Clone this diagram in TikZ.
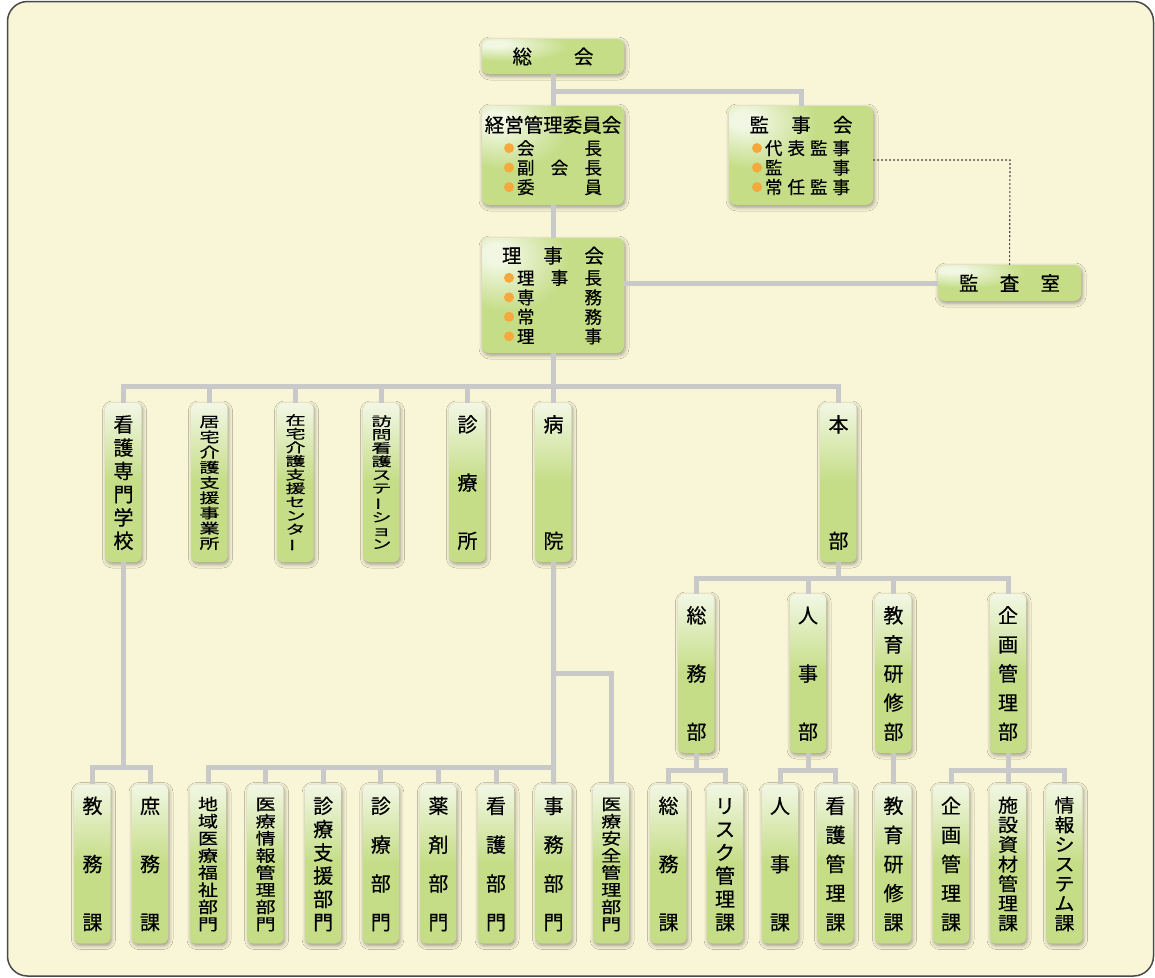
\documentclass[tikz,border=0pt]{standalone}
\usepackage{fontspec}
\setmainfont{Noto Sans CJK JP}[FakeBold=0.5]
\usepackage{graphicx}
\usetikzlibrary{positioning,shadows.blur}

\definecolor{papercream}{HTML}{F9F5D7}
\definecolor{framegray}{HTML}{4A4A4A}
\definecolor{linkgray}{HTML}{C9C9C9}
\definecolor{boxgreen}{HTML}{C4DD86}
\definecolor{boxlight}{HTML}{F2F7E4}
\definecolor{dotorange}{HTML}{F5A83C}

\pgfdeclareverticalshading{vshade}{100bp}{color(0bp)=(boxgreen); color(50bp)=(boxgreen); color(75bp)=(boxlight); color(100bp)=(boxlight)}
\pgfdeclareradialshading{hshade}{\pgfpoint{-21bp}{19bp}}{color(0bp)=(boxlight); color(4bp)=(boxlight); color(22bp)=(boxgreen); color(100bp)=(boxgreen)}

\newcommand\ttl{\fontsize{19.5}{19.5}\selectfont}
\newcommand\itm[1]{\tikz[baseline=-0.38em]\fill[dotorange] (0,0) circle (5pt);\hspace{3pt}\makebox[85pt][s]{#1}}
\newcommand\vbar{\rotatebox[origin=c]{90}{ー}}
% vertical text, spread from top to bottom of the box
\newcommand\vtxt[2][1]{%
  \vbox to 134pt{\offinterlineskip
    \foreach[count=\idx] \ch in {#2}{%
      \ifnum\idx>1 \vfill\fi
      \hbox to 30pt{\hss\scalebox{1}[#1]{\rule[-0.12em]{0pt}{1em}\ch}\hss}}}}

\begin{document}
\begin{tikzpicture}[x=1pt,y=-1pt,node distance=86pt,on grid,
    hbox/.style={shade,shading=hshade,rounded corners=7pt,inner sep=0pt,align=center,
      minimum width=142pt,font=\fontsize{17.5}{19.5}\selectfont,
      blur shadow={shadow xshift=1pt,shadow yshift=-2pt,shadow blur radius=4pt,shadow opacity=40}},
    vbox/.style={shade,shading=vshade,rounded corners=6pt,inner sep=0pt,
      minimum width=36pt,minimum height=159pt,font=\fontsize{20}{20}\selectfont,
      blur shadow={shadow xshift=1pt,shadow yshift=-2pt,shadow blur radius=4pt,shadow opacity=40}},
    link/.style={draw=linkgray,line width=5pt},
    audit/.style={draw=framegray,line width=1.1pt,dash pattern=on 2pt off 2pt}]

  \useasboundingbox (0,0) rectangle (1155,977);
  \fill[white] (0,0) rectangle (1155,977);
  \draw[framegray,fill=papercream,line width=1.5pt,rounded corners=20pt] (7.5,1.5) rectangle (1153.5,976);

  % top levels
  \node[hbox,minimum height=35pt] (soukai) at (553,56.5) {\makebox[81pt][s]{\ttl 総\hfill 会}};
  \node[hbox,minimum height=99pt] (keiei_iin) at (553,155.5)
    {{\ttl 経営管理委員会}\\[3pt]\itm{会\hfill 長}\\\itm{副\hfill 会\hfill 長}\\\itm{委\hfill 員}};
  \node[hbox,minimum height=99pt,minimum width=144pt] (kansa_kai) at (801,155.5)
    {\makebox[103pt][s]{\ttl 監\hfill 事\hfill 会}\\[3pt]\itm{代\hfill 表\hfill 監\hfill 事}\\\itm{監\hfill 事}\\\itm{常\hfill 任\hfill 監\hfill 事}};
  \node[hbox,minimum height=115pt] (rijikai) at (553,295.5)
    {\makebox[102pt][s]{\ttl 理\hfill 事\hfill 会}\\[2pt]\itm{理\hfill 事\hfill 長}\\\itm{専\hfill 務}\\\itm{常\hfill 務}\\\itm{理\hfill 事}};
  \node[hbox,minimum height=36pt,minimum width=143pt] (kansa_shitsu) at (1009.5,283) {\makebox[101pt][s]{\ttl 監\hfill 査\hfill 室}};

  % second row
  \node[vbox] (kango_gakko) at (123.5,482.5) {\vtxt{看,護,専,門,学,校}};
  \node[vbox,right=of kango_gakko] (kyotaku) {\vtxt[0.7]{居,宅,介,護,支,援,事,業,所}};
  \node[vbox,right=of kyotaku] (zaitaku) {\vtxt[0.64]{在,宅,介,護,支,援,セ,ン,タ,\vbar}};
  \node[vbox,right=of zaitaku] (houmon) {\vtxt[0.64]{訪,問,看,護,ス,テ,\vbar,シ,ョ,ン}};
  \node[vbox,right=of houmon] (shinryojo) {\vtxt{診,療,所}};
  \node[vbox,right=of shinryojo] (byoin) {\vtxt{病,院}};
  \node[vbox] (honbu) at (838.5,482.5) {\vtxt{本,部}};

  % departments of honbu
  \node[vbox] (somubu) at (696.5,673.5) {\vtxt{総,務,部}};
  \node[vbox] (jinjibu) at (808,673.5) {\vtxt{人,事,部}};
  \node[vbox] (kyoikubu) at (893.5,673.5) {\vtxt{教,育,研,修,部}};
  \node[vbox] (kikakubu) at (1008,673.5) {\vtxt{企,画,管,理,部}};

  % bottom row
  \node[vbox] (kyomu) at (92.5,864) {\vtxt{教,務,課}};
  \node[vbox,right=57.5pt of kyomu] (shomu) {\vtxt{庶,務,課}};
  \node[vbox] (chiiki) at (208,864) {\vtxt[0.8]{地,域,医,療,福,祉,部,門}};
  \node[vbox,right=57.6pt of chiiki] (iryo_joho) {\vtxt[0.8]{医,療,情,報,管,理,部,門}};
  \node[vbox,right=57.6pt of iryo_joho] (shinryo_shien) {\vtxt{診,療,支,援,部,門}};
  \node[vbox,right=57.6pt of shinryo_shien] (shinryo) {\vtxt{診,療,部,門}};
  \node[vbox,right=57.6pt of shinryo] (yakuzai) {\vtxt{薬,剤,部,門}};
  \node[vbox,right=57.6pt of yakuzai] (kango) {\vtxt{看,護,部,門}};
  \node[vbox,right=57.6pt of kango] (jimu) {\vtxt{事,務,部,門}};
  \node[vbox,right=57.6pt of jimu] (anzen) {\vtxt[0.8]{医,療,安,全,管,理,部,門}};
  \node[vbox] (somuka) at (668.5,864) {\vtxt{総,務,課}};
  \node[vbox,right=56.5pt of somuka] (risk) {\vtxt{リ,ス,ク,管,理,課}};
  \node[vbox] (jinjika) at (780,864) {\vtxt{人,事,課}};
  \node[vbox,right=55.5pt of jinjika] (kango_kanri) {\vtxt{看,護,管,理,課}};
  \node[vbox] (kyoika) at (893.5,864) {\vtxt{教,育,研,修,課}};
  \node[vbox] (kikakuka) at (951,864) {\vtxt{企,画,管,理,課}};
  \node[vbox,right=57pt of kikakuka] (shisetsu) {\vtxt[0.92]{施,設,資,材,管,理,課}};
  \node[vbox,right=56.5pt of shisetsu] (joho) {\vtxt[0.92]{情,報,シ,ス,テ,ム,課}};

  % connectors
  \coordinate (top_split) at (553,91);
  \coordinate (row2_bus) at (553,386);
  \coordinate (audit_corner) at (1010,160);
  \coordinate (gakko_split) at (123.5,767);
  \coordinate (byoin_split) at (553.5,673);
  \coordinate (byoin_bus) at (553.5,767);
  \coordinate (honbu_bus) at (838.5,578);
  \coordinate (somubu_split) at (696.5,770);
  \coordinate (jinjibu_split) at (808,770);
  \coordinate (kikakubu_split) at (1008,770);

  \draw[link] (soukai) -- (keiei_iin);
  \draw[link] (top_split) -| (kansa_kai);
  \draw[link] (keiei_iin) -- (rijikai);
  \draw[link] (rijikai.east |- kansa_shitsu) -- (kansa_shitsu);
  \draw[audit] (kansa_kai.east |- audit_corner) -- (audit_corner) -- (kansa_shitsu);

  \draw[link] (rijikai) -- (row2_bus);
  \draw[link] (kango_gakko) |- (row2_bus) -| (honbu);
  \foreach \n in {kyotaku,zaitaku,houmon,shinryojo,byoin}
    \draw[link] (\n |- row2_bus) -- (\n);

  \draw[link] (kango_gakko) -- (gakko_split);
  \draw[link] (kyomu) |- (gakko_split) -| (shomu);

  \draw[link] (byoin) -- (jimu);
  \draw[link] (byoin_split) -| (anzen);
  \draw[link] (chiiki) |- (byoin_bus);
  \foreach \n in {iryo_joho,shinryo_shien,shinryo,yakuzai,kango}
    \draw[link] (\n |- byoin_bus) -- (\n);

  \draw[link] (honbu) -- (honbu_bus);
  \draw[link] (somubu) |- (honbu_bus) -| (kikakubu);
  \draw[link] (jinjibu |- honbu_bus) -- (jinjibu);
  \draw[link] (kyoikubu |- honbu_bus) -- (kyoikubu);

  \draw[link] (somubu) -- (somubu_split);
  \draw[link] (somuka) |- (somubu_split) -| (risk);
  \draw[link] (jinjibu) -- (jinjibu_split);
  \draw[link] (jinjika) |- (jinjibu_split) -| (kango_kanri);
  \draw[link] (kyoikubu) -- (kyoika);
  \draw[link] (kikakubu) -- (shisetsu);
  \draw[link] (kikakuka) |- (kikakubu_split) -| (joho);
\end{tikzpicture}
\end{document}
